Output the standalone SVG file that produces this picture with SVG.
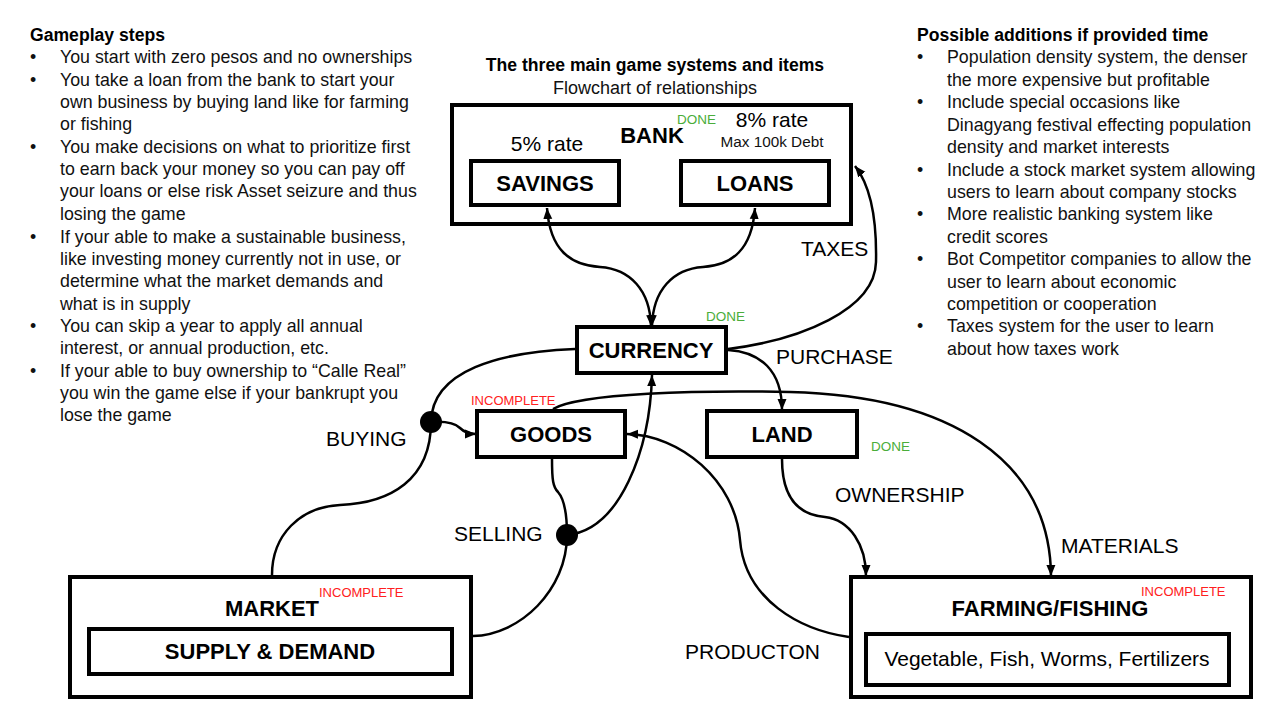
<svg xmlns="http://www.w3.org/2000/svg" width="1280" height="720" viewBox="0 0 1280 720">
<defs>
<marker id="arr" markerUnits="userSpaceOnUse" markerWidth="12" markerHeight="12" viewBox="0 0 12 12" refX="11" refY="6" orient="auto-start-reverse">
<path d="M0,1.5 L11,6 L0,10.5 Z" fill="#000"/>
</marker>
</defs>
<style>
.box{fill:#fff;stroke:#000;stroke-width:4}
.nl{font-family:"Liberation Sans",Arial,sans-serif;font-weight:bold;font-size:22px;fill:#000;text-anchor:middle}
.lbl{font-family:"Liberation Sans",Arial,sans-serif;font-size:21px;fill:#000}
.body{font-family:"Liberation Sans",Arial,sans-serif;font-size:17.8px;fill:#111}
.hd{font-family:"Liberation Sans",Arial,sans-serif;font-size:17.6px;font-weight:bold;fill:#000}
.done{font-family:"Liberation Sans",Arial,sans-serif;font-size:13.5px;fill:#4aad3a}
.inc{font-family:"Liberation Sans",Arial,sans-serif;font-size:13px;fill:#ff2020}
.c{fill:none;stroke:#000;stroke-width:2.5}
</style>
<rect width="1280" height="720" fill="#fff"/>

<g id="left-notes">
<text class="hd" x="30" y="41">Gameplay steps</text>
<g class="body">
<text x="30" y="63">•</text><text x="60" y="63">You start with zero pesos and no ownerships</text>
<text x="30" y="86">•</text><text x="60" y="86">You take a loan from the bank to start your</text>
<text x="60" y="108">own business by buying land like for farming</text>
<text x="60" y="130">or fishing</text>
<text x="30" y="153">•</text><text x="60" y="153">You make decisions on what to prioritize first</text>
<text x="60" y="175">to earn back your money so you can pay off</text>
<text x="60" y="197">your loans or else risk Asset seizure and thus</text>
<text x="60" y="220">losing the game</text>
<text x="30" y="243">•</text><text x="60" y="243">If your able to make a sustainable business,</text>
<text x="60" y="265">like investing money currently not in use, or</text>
<text x="60" y="287">determine what the market demands and</text>
<text x="60" y="310">what is in supply</text>
<text x="30" y="332">•</text><text x="60" y="332">You can skip a year to apply all annual</text>
<text x="60" y="354">interest, or annual production, etc.</text>
<text x="30" y="377">•</text><text x="60" y="377">If your able to buy ownership to “Calle Real”</text>
<text x="60" y="399">you win the game else if your bankrupt you</text>
<text x="60" y="421">lose the game</text>
</g>
</g>

<g id="right-notes">
<text class="hd" x="917" y="41">Possible additions if provided time</text>
<g class="body">
<text x="917" y="63">•</text><text x="947" y="63">Population density system, the denser</text>
<text x="947" y="86">the more expensive but profitable</text>
<text x="917" y="108">•</text><text x="947" y="108">Include special occasions like</text>
<text x="947" y="131">Dinagyang festival effecting population</text>
<text x="947" y="153">density and market interests</text>
<text x="917" y="176">•</text><text x="947" y="176">Include a stock market system allowing</text>
<text x="947" y="198">users to learn about company stocks</text>
<text x="917" y="220">•</text><text x="947" y="220">More realistic banking system like</text>
<text x="947" y="243">credit scores</text>
<text x="917" y="265">•</text><text x="947" y="265">Bot Competitor companies to allow the</text>
<text x="947" y="288">user to learn about economic</text>
<text x="947" y="310">competition or cooperation</text>
<text x="917" y="332">•</text><text x="947" y="332">Taxes system for the user to learn</text>
<text x="947" y="355">about how taxes work</text>
</g>
</g>

<g id="title">
<text class="hd" x="655" y="71" text-anchor="middle">The three main game systems and items</text>
<text x="655" y="94" text-anchor="middle" font-family="Liberation Sans, Arial, sans-serif" font-size="18" fill="#111">Flowchart of relationships</text>
</g>

<g id="bank">
<rect class="box" x="452" y="105" width="399" height="119"/>
<text class="nl" x="652" y="143">BANK</text>
<text class="done" x="677" y="124">DONE</text>
<text class="lbl" x="547" y="151" text-anchor="middle">5% rate</text>
<text class="lbl" x="772" y="127" text-anchor="middle">8% rate</text>
<text x="772" y="147" text-anchor="middle" font-family="Liberation Sans, Arial, sans-serif" font-size="15.3" fill="#111">Max 100k Debt</text>
</g>
<g id="savings">
<rect class="box" x="471" y="161" width="148" height="44"/>
<text class="nl" x="545" y="191">SAVINGS</text>
</g>
<g id="loans">
<rect class="box" x="681" y="161" width="148" height="44"/>
<text class="nl" x="755" y="191">LOANS</text>
</g>
<g id="currency">
<rect class="box" x="577" y="327" width="149" height="46"/>
<text class="nl" x="651" y="358">CURRENCY</text>
<text class="done" x="706" y="321">DONE</text>
</g>
<g id="goods">
<rect class="box" x="477" y="411" width="148" height="46"/>
<text class="nl" x="551" y="442">GOODS</text>
<text class="inc" x="471" y="405">INCOMPLETE</text>
</g>
<g id="land">
<rect class="box" x="707" y="411" width="150" height="46"/>
<text class="nl" x="782" y="442">LAND</text>
<text class="done" x="871" y="451">DONE</text>
</g>
<g id="market">
<rect class="box" x="70" y="577" width="401" height="120"/>
<text class="nl" x="272" y="616">MARKET</text>
<text class="inc" x="319" y="597">INCOMPLETE</text>
<rect class="box" x="89" y="629" width="363" height="45"/>
<text class="nl" x="270" y="659">SUPPLY &amp; DEMAND</text>
</g>
<g id="farming">
<rect class="box" x="851" y="577" width="400" height="120"/>
<text class="nl" x="1050" y="616">FARMING/FISHING</text>
<text class="inc" x="1141" y="596">INCOMPLETE</text>
<rect class="box" x="866" y="634" width="363" height="51"/>
<text class="lbl" x="1047" y="666" text-anchor="middle" font-size="20.4">Vegetable, Fish, Worms, Fertilizers</text>
</g>

<g id="connectors">
<path class="c" d="M547,208 C550,250 570,265 600,267 C630,269 650,290 651,326" marker-start="url(#arr)" marker-end="url(#arr)"/>
<path class="c" d="M755,208 C752,250 732,265 703,267 C673,269 653,290 652,326" marker-start="url(#arr)" marker-end="url(#arr)"/>
<path class="c" d="M728,349 C800,340 875,310 876,262 C877,215 870,185 855,166" marker-end="url(#arr)"/>
<path class="c" d="M728,350 C760,352 782,370 782,410" marker-end="url(#arr)"/>
<path class="c" d="M575,349 C500,352 432,370 431,422"/>
<path class="c" d="M431,422 C446,421 456,424 460,428 C464,432 468,434 476,434" marker-end="url(#arr)"/>
<path class="c" d="M431,422 C431,480 390,503 340,505 C300,507 272,535 272,575"/>
<path class="c" d="M552,459 C552,480 553,487 558,492 C565,500 567,515 567,535"/>
<path class="c" d="M567,535 C567,590 520,635 473,636"/>
<path class="c" d="M567,535 C620,530 650,450 652,375" marker-end="url(#arr)"/>
<path class="c" d="M849,637 C800,630 745,600 740,540 C735,480 680,435 627,434" marker-end="url(#arr)"/>
<path class="c" d="M553,409 C580,393 700,390 790,392 C950,396 1050,460 1051,576" marker-end="url(#arr)"/>
<path class="c" d="M782,459 C782,500 800,515 825,517 C850,520 866,545 866,576" marker-end="url(#arr)"/>
<circle cx="431" cy="422" r="11" fill="#000"/>
<circle cx="567" cy="535" r="11" fill="#000"/>
<text class="lbl" x="801" y="256">TAXES</text>
<text class="lbl" x="776" y="364">PURCHASE</text>
<text class="lbl" x="326" y="446">BUYING</text>
<text class="lbl" x="454" y="541">SELLING</text>
<text class="lbl" x="835" y="502">OWNERSHIP</text>
<text class="lbl" x="1061" y="553">MATERIALS</text>
<text class="lbl" x="685" y="659">PRODUCTON</text>
</g>
</svg>
